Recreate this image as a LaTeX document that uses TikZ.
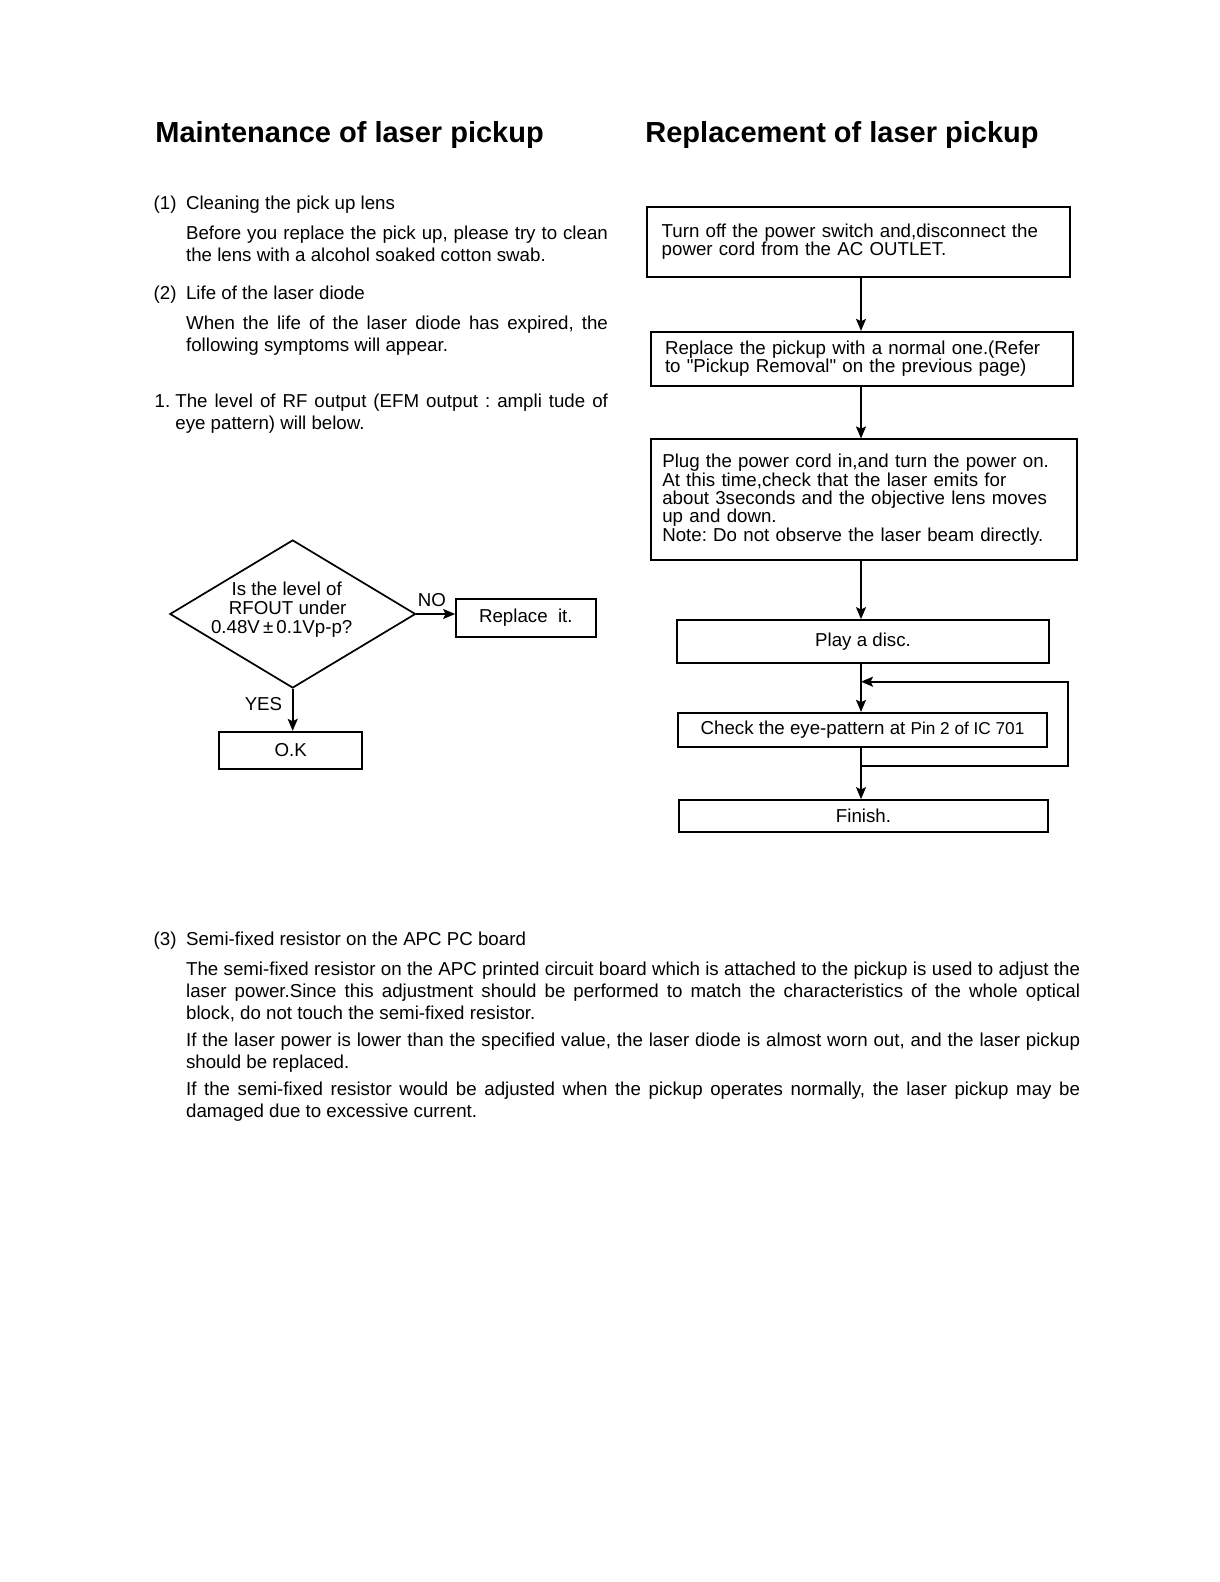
\documentclass[tikz,border=0pt]{standalone}
\usepackage{fontspec}
\setmainfont{Liberation Sans}
\usetikzlibrary{shapes.geometric,arrows.meta}
\frenchspacing

\newcommand\bodyfont{\fontsize{9.35pt}{11.1pt}\selectfont}
\newcommand\boxfont{\fontsize{9.35pt}{9.2pt}\selectfont}
\newcommand\diafont{\fontsize{9.35pt}{9.5pt}\selectfont}
\newcommand\headfont{\fontsize{14.5pt}{17pt}\selectfont\bfseries}
\newcommand\itemno[1]{\makebox[16.2pt][l]{#1}}

\tikzset{
  txt/.style={anchor=base west, inner sep=0pt, font=\bodyfont},
  para/.style={txt, align=justify},
  stepbox/.style={draw, line width=0.85pt, inner ysep=0pt, font=\boxfont},
  flow/.style={->, line width=0.85pt},
}

\begin{document}
\begin{tikzpicture}[x=0.5pt, y=-0.5pt, >={Stealth[length=6pt,width=5pt,inset=1.2pt]}]
		
		% Page
		\useasboundingbox (0,0) rectangle (1219,1582);
		\fill[white] (0,0) rectangle (1219,1582);
		
		% Headings
		\node[txt, font=\headfont] (mtitle) at (155,143) {Maintenance of laser pickup};
		\node[txt, font=\headfont] (rtitle) at (645,143) {Replacement of laser pickup};
		
		% Left column text
		\node[txt] (item1) at (153.3,209.5) {\itemno{(1)}Cleaning the pick up lens};
		\node[para, text width=210.9pt] (clean) at (185.7,239.5)
		{Before you replace the pick up, please try to clean\linebreak the lens with a alcohol soaked cotton swab.};
		\node[txt] (item2) at (153.3,299.3) {\itemno{(2)}Life of the laser diode};
		\node[para, text width=210.9pt] (life) at (185.7,329.6)
		{When the life of the laser diode has expired, the\linebreak following symptoms will appear.};
		\node[para, text width=216.25pt] (rflevel) at (175,407.3)
		{\leavevmode\llap{1.\ }The level of RF output (EFM output : ampli tude of\linebreak eye pattern) will below.};
		
		% Check of RF level
		\node[diamond, draw, line width=0.85pt, minimum width=122.85pt, minimum height=74pt,
		  shape aspect=1.66, inner sep=0pt, align=center, font=\diafont] (rfq) at (292.7,614)
		{\hspace*{-6pt}Is the level of\\\hspace*{-5pt}RFOUT under\\\hspace*{-11pt}0.48V\,±\,0.1Vp-p?\rule[-6pt]{0pt}{0pt}};
		\node[stepbox, minimum width=69.85pt, minimum height=18.85pt] (replace) at (525.85,617.85) {Replace\ \ it.};
		\node[stepbox, minimum width=71.35pt, minimum height=18.8pt] (ok) at (290.65,750.5) {O.K};
		
		\draw[flow] (rfq.east) -- (rfq.east -| replace.west) node[pos=0.4, above, font=\bodyfont] (no) {NO};
		\draw[flow] (rfq.south) -- (rfq.south |- ok.north) node[pos=0.37, left, xshift=-1.5pt, font=\bodyfont] (yes) {YES};
		
		% Replacement steps
		\coordinate (spine) at (861,0);
		\node[stepbox, minimum width=211.65pt, minimum height=35pt, inner xsep=7.5pt, text width=196.65pt, align=left] (off) at (858.35,241.7)
		{Turn off the power switch and,disconnect the\\power cord from the AC OUTLET.};
		\node[stepbox, minimum width=211.3pt, minimum height=27pt, inner xsep=7.15pt, text width=197pt, align=left] (swap) at (862,358.7)
		{Replace the pickup with a normal one.(Refer\\to \textquotedbl Pickup Removal\textquotedbl{} on the previous page)};
		\node[stepbox, minimum width=213pt, minimum height=60.35pt, inner xsep=5.8pt, text width=201.4pt, align=left] (plug) at (863.7,499.65)
		{Plug the power cord in,and turn the power on.\\At this time,check that the laser emits for\\about 3seconds and the objective lens moves\\up and down.\\Note: Do not observe the laser beam directly.};
		\node[stepbox, minimum width=186.3pt, minimum height=21.35pt] (play) at (863,641.35) {Play a disc.};
		\node[stepbox, minimum width=184.2pt, minimum height=17.3pt] (check) at (862.5,730)
		{Check the eye-pattern at {\fontsize{8.6pt}{9pt}\selectfont Pin 2 of IC 701}};
		\node[stepbox, minimum width=184.2pt, minimum height=16.15pt] (finish) at (863.5,816.15) {Finish.};
		
		% Arrows down the chart
		\draw[flow] (off.south -| spine) -- (swap.north -| spine);
		\draw[flow] (swap.south -| spine) -- (plug.north -| spine);
		\draw[flow] (plug.south -| spine) -- (play.north -| spine);
		\draw[flow] (play.south -| spine) -- (check.north -| spine);
		\draw[flow] (check.south -| spine) -- (finish.north -| spine);
		
		% Loop back to the check
		\coordinate (loopin) at (861,681.7);
		\coordinate (loopout) at (861,765.7);
		\coordinate (loopcorner) at (1068.3,681.7);
		\draw[flow] (loopout) -| (loopcorner) -- (loopin);
		
		% Semi-fixed resistor
		\node[txt] (item3) at (153.3,945) {\itemno{(3)}Semi-fixed resistor on the APC PC board};
		\node[para, text width=447pt] (apc) at (185.7,975)
		{The semi-fixed resistor on the APC printed circuit board which is attached to the pickup is used to adjust the\linebreak laser power.Since this adjustment should be performed to match the characteristics of the whole optical\linebreak block, do not touch the semi-fixed resistor.};
		\node[para, text width=447pt] (lower) at (185.7,1046.7)
		{If the laser power is lower than the specified value, the laser diode is almost worn out, and the laser pickup\linebreak should be replaced.};
		\node[para, text width=447pt] (adjust) at (185.7,1095.7)
		{If the semi-fixed resistor would be adjusted when the pickup operates normally, the laser pickup may be\linebreak damaged due to excessive current.};
		
	\end{tikzpicture}
\end{document}
